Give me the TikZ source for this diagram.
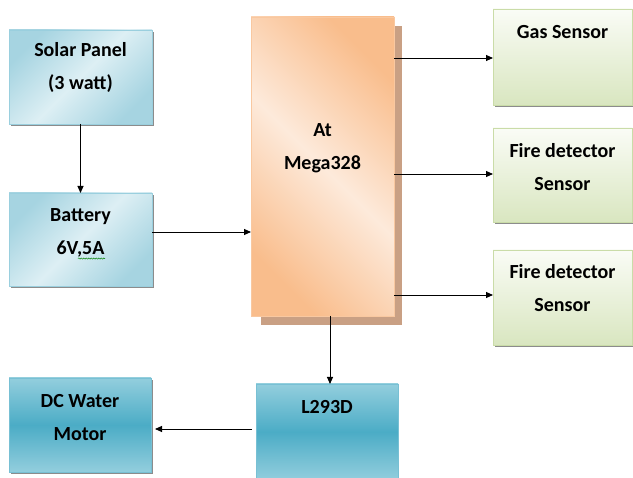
\documentclass[tikz,border=0pt]{standalone}
\usepackage{fontspec}
\setmainfont{Carlito}
\usetikzlibrary{arrows.meta,decorations.pathmorphing}
\definecolor{blueA}{HTML}{A6D4E1}
\definecolor{blueB}{HTML}{DDEFF4}
\definecolor{blueE}{HTML}{9ACFDE}
\definecolor{peachA}{HTML}{F9BD8C}
\definecolor{peachB}{HTML}{FDEADB}
\definecolor{peachE}{HTML}{F9C8A0}
\definecolor{peachS}{HTML}{C9A084}
\definecolor{greenT}{HTML}{FAFCF6}
\definecolor{greenB}{HTML}{D9E6C0}
\definecolor{greenE}{HTML}{CADCA8}
\definecolor{tealM}{HTML}{4BACC6}
\definecolor{tealL}{HTML}{93CEDD}
\definecolor{tealE}{HTML}{78C0D4}
\definecolor{shadowG}{HTML}{8C8C8C}
\tikzset{
  lbl/.style={font=\fontsize{20}{33}\selectfont\bfseries, align=center, inner sep=0pt},
  boxbase/.style={inner sep=0pt, outer sep=0pt, line width=0.8pt},
  bluebox/.style={boxbase, draw=blueE, left color=blueA, right color=blueA, middle color=blueB, shading angle=45},
  peachbox/.style={boxbase, draw=peachE, left color=peachA, right color=peachA, middle color=peachB, shading angle=135},
  greenbox/.style={boxbase, draw=greenE, top color=greenT, bottom color=greenB},
  tealbox/.style={boxbase, draw=tealE, top color=tealL, bottom color=tealL, middle color=tealM},
  shadowbox/.style={fill=shadowG},
  conn/.style={line width=0.9pt, -{Triangle[length=7pt,width=6pt]}},
  squiggle/.style={draw=green!50!black, line width=0.5pt, decorate, decoration={snake, amplitude=0.6pt, segment length=2.5pt}}
}
\begin{document}
\begin{tikzpicture}[x=1pt,y=-1pt]
\useasboundingbox[fill=white] (0,0) rectangle (633,478);
% shadows
\fill[shadowbox] (11,32) rectangle (154,126);
\fill[shadowbox] (11,195) rectangle (154,288);
\fill[shadowbox] (11,380) rectangle (153,474);
\fill[shadowbox] (495,11) rectangle (634,107);
\fill[shadowbox] (495,130) rectangle (634,224);
\fill[shadowbox] (495,252) rectangle (634,347);
\fill[peachS] (261,26) rectangle (402,325);
% boxes
\node[bluebox, minimum width=143pt, minimum height=94pt] (solar) at (80.5,77) {};
\node[bluebox, minimum width=143pt, minimum height=93pt] (battery) at (80.5,239.5) {};
\node[peachbox, minimum width=143pt, minimum height=299pt] (atmega) at (322.5,166.5) {};
\node[greenbox, minimum width=139pt, minimum height=96pt] (gas) at (562.5,57) {};
\node[greenbox, minimum width=139pt, minimum height=94pt] (fire1) at (562.5,175) {};
\node[greenbox, minimum width=139pt, minimum height=95pt] (fire2) at (562.5,297.5) {};
\node[tealbox, minimum width=142pt, minimum height=94pt] (motor) at (80,425) {};
\node[tealbox, minimum width=142pt, minimum height=96pt] (l293) at (327,432) {};
% texts
\node[lbl] (solarT) at (80.5,68) {Solar Panel\\(3 watt)};
\node[lbl] (batteryT) at (80.5,233) {Battery\\6V,5A};
\draw[squiggle] ([xshift=-2.5pt,yshift=-1pt]batteryT.south) -- ([xshift=24.5pt,yshift=-1pt]batteryT.south);
\node[lbl] (atmegaT) at (322.5,148) {At\\Mega328};
\node[lbl] (gasT) at (562.5,32) {Gas Sensor};
\node[lbl] (fire1T) at (562.5,167.5) {Fire detector\\Sensor};
\node[lbl] (fire2T) at (562.5,288.5) {Fire detector\\Sensor};
\node[lbl] (motorT) at (80,417.5) {DC Water\\Motor};
\node[lbl] (l293T) at (327,407) {L293D};
% connectors
\draw[conn] (solar.south) -- (battery.north);
\draw[conn] (battery.east |- 0,232) -- (atmega.west |- 0,232);
\draw[conn] (atmega.east |- 0,58) -- (gas.west |- 0,58);
\draw[conn] (atmega.east |- 0,174) -- (fire1.west |- 0,174);
\draw[conn] (atmega.east |- 0,295) -- (fire2.west |- 0,295);
\draw[conn] (atmega.south -| 330,0) -- (l293.north -| 330,0);
\draw[conn, shorten <=4pt, shorten >=4pt] (l293.west |- 0,429) -- (motor.east |- 0,429);
\end{tikzpicture}
\end{document}
